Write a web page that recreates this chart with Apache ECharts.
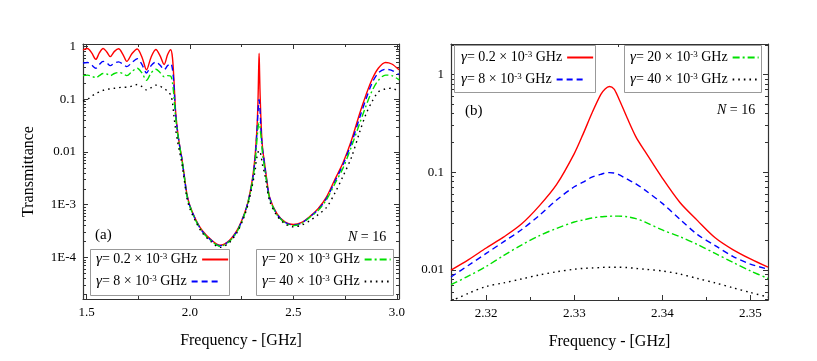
<!DOCTYPE html>
<html>
<head>
<meta charset="utf-8">
<script src="https://cdn.jsdelivr.net/npm/echarts@6/dist/echarts.min.js"></script>
<style>
html,body{margin:0;padding:0;background:#fff}
#main{width:817px;height:361px}
</style>
</head>
<body>
<div id="main"></div>
<script>
// panel (a): full band, frequency in GHz
const freqA = [1.483, 1.505, 1.525, 1.545, 1.562, 1.58, 1.598, 1.615, 1.635, 1.655, 1.675, 1.695, 1.72, 1.745, 1.768, 1.79, 1.812, 1.835, 1.855, 1.875, 1.892, 1.907, 1.915,
  1.922, 1.93, 1.94, 1.95, 1.96, 1.97, 1.985, 2.0,
  2.03, 2.06, 2.1, 2.145, 2.19, 2.23, 2.26, 2.28, 2.3, 2.31,
  2.316, 2.32, 2.324, 2.328, 2.33, 2.332, 2.334, 2.336, 2.338, 2.34, 2.344, 2.348, 2.352,
  2.36, 2.37, 2.385, 2.42, 2.46, 2.5, 2.54, 2.58,
  2.62, 2.66, 2.7, 2.74, 2.78, 2.82, 2.85, 2.88, 2.91, 2.945, 2.975, 3.01];

const redA = [0.871, 0.923, 0.759, 0.575, 0.759, 0.923, 0.794, 0.646, 0.813, 0.912, 0.724, 0.525, 0.741, 0.902, 0.631, 0.363, 0.631, 0.881, 0.676, 0.457, 0.708, 0.871, 0.631,
  0.251, 0.063, 0.025, 0.0132, 0.0079, 0.0042, 0.0016, 9.5e-4,
  5.0e-4, 3.2e-4, 2.2e-4, 1.7e-4, 2.1e-4, 3.4e-4, 6.3e-4, 1.12e-3, 2.8e-3, 5.6e-3,
  0.0100, 0.0168, 0.0295, 0.078, 0.16, 0.40, 0.75, 0.36, 0.16, 0.087, 0.032, 0.0162, 0.0107,
  0.0063, 0.0032, 0.00138, 6.8e-4, 4.7e-4, 4.2e-4, 4.6e-4, 6.0e-4,
  8.5e-4, 1.41e-3, 3.0e-3, 6.3e-3, 0.0166, 0.054, 0.12, 0.24, 0.389, 0.50, 0.468, 0.363];

const blueA = [0.490, 0.501, 0.447, 0.389, 0.457, 0.525, 0.490, 0.437, 0.490, 0.513, 0.468, 0.417, 0.501, 0.589, 0.457, 0.316, 0.437, 0.513, 0.447, 0.363, 0.437, 0.479, 0.380,
  0.2, 0.056, 0.024, 0.0129, 0.0078, 0.0041, 0.00155, 9.3e-4,
  4.9e-4, 3.1e-4, 2.15e-4, 1.66e-4, 2.05e-4, 3.3e-4, 6.2e-4, 1.1e-3, 2.6e-3, 5.0e-3,
  0.0085, 0.0148, 0.0258, 0.052, 0.071, 0.089, 0.099, 0.085, 0.066, 0.048, 0.023, 0.0138, 0.0102,
  0.006, 0.003, 0.00135, 6.6e-4, 4.6e-4, 4.1e-4, 4.5e-4, 5.9e-4,
  8.1e-4, 1.32e-3, 2.75e-3, 5.8e-3, 0.0148, 0.045, 0.1, 0.204, 0.316, 0.372, 0.355, 0.295];

const greenA = [0.282, 0.288, 0.275, 0.257, 0.282, 0.309, 0.302, 0.282, 0.309, 0.324, 0.309, 0.282, 0.339, 0.389, 0.316, 0.229, 0.316, 0.372, 0.324, 0.269, 0.282, 0.275, 0.209,
  0.12, 0.048, 0.0224, 0.0126, 0.0076, 0.004, 0.0015, 9.1e-4,
  4.8e-4, 3.05e-4, 2.1e-4, 1.63e-4, 2.0e-4, 3.2e-4, 6.0e-4, 1.07e-3, 2.5e-3, 4.5e-3,
  0.0071, 0.0109, 0.018, 0.0267, 0.031, 0.034, 0.0355, 0.035, 0.031, 0.0257, 0.0182, 0.012, 0.0082,
  0.0052, 0.0028, 0.00132, 6.5e-4, 4.5e-4, 4.0e-4, 4.4e-4, 5.8e-4,
  7.8e-4, 1.25e-3, 2.5e-3, 5.0e-3, 0.0126, 0.035, 0.074, 0.145, 0.229, 0.288, 0.282, 0.234];

const blackA = [0.093, 0.1, 0.115, 0.129, 0.138, 0.148, 0.155, 0.158, 0.162, 0.166, 0.17, 0.17, 0.178, 0.191, 0.174, 0.151, 0.166, 0.186, 0.178, 0.158, 0.145, 0.12, 0.089,
  0.05, 0.028, 0.0158, 0.01, 0.0063, 0.0035, 0.00135, 8.3e-4,
  4.6e-4, 2.9e-4, 2.0e-4, 1.55e-4, 1.9e-4, 3.1e-4, 5.7e-4, 1.0e-3, 2.2e-3, 3.5e-3,
  0.0048, 0.0067, 0.0082, 0.0096, 0.0102, 0.0105, 0.0107, 0.0106, 0.0102, 0.0098, 0.0082, 0.0066, 0.0053,
  0.004, 0.0024, 0.00117, 6.2e-4, 4.3e-4, 3.8e-4, 4.1e-4, 5.0e-4,
  6.5e-4, 8.9e-4, 1.66e-3, 3.5e-3, 7.9e-3, 0.024, 0.052, 0.091, 0.138, 0.158, 0.162, 0.138];

// panel (b): zoom on the defect mode
const freqB = [2.316, 2.318, 2.32, 2.322, 2.324, 2.326, 2.328, 2.33, 2.331, 2.332, 2.333, 2.3335, 2.334, 2.3345, 2.335, 2.336, 2.337, 2.338, 2.34, 2.342, 2.344, 2.346, 2.348, 2.35, 2.352];
const redB = [0.0100, 0.0128, 0.0168, 0.0218, 0.0295, 0.045, 0.075, 0.155, 0.245, 0.40, 0.62, 0.71, 0.75, 0.71, 0.58, 0.36, 0.23, 0.165, 0.087, 0.049, 0.032, 0.0214, 0.0162, 0.013, 0.0107];
const blueB = [0.0085, 0.0112, 0.0148, 0.0195, 0.0258, 0.036, 0.052, 0.071, 0.079, 0.089, 0.095, 0.098, 0.099, 0.098, 0.095, 0.085, 0.076, 0.066, 0.048, 0.033, 0.023, 0.0178, 0.0138, 0.0115, 0.0102];
const greenB = [0.0071, 0.0087, 0.0109, 0.0141, 0.018, 0.0224, 0.0267, 0.031, 0.0325, 0.034, 0.035, 0.0353, 0.0355, 0.0356, 0.0356, 0.035, 0.0335, 0.031, 0.0257, 0.0219, 0.0182, 0.0148, 0.012, 0.0098, 0.0082];
const blackB = [0.0048, 0.0058, 0.0068, 0.0074, 0.0081, 0.0089, 0.0096, 0.0102, 0.0104, 0.0105, 0.0106, 0.0107, 0.0107, 0.0107, 0.0107, 0.0106, 0.0104, 0.0102, 0.0098, 0.0091, 0.0082, 0.0074, 0.0066, 0.0059, 0.0053];

const gammas = { g02: '0.2', g8: '8', g20: '20', g40: '40' };
const xTicksA = [1.5, 2.0, 2.5, 3.0];
const xMinorA = [1.75, 2.25, 2.75];
const xTicksB = [2.32, 2.33, 2.34, 2.35];
const xMinorB = [2.325, 2.335, 2.345];
const yLabels = { '0': '1', '-1': '0.1', '-2': '0.01', '-3': '1E-3', '-4': '1E-4' };

const serif = '"Liberation Serif", "DejaVu Serif", serif';
const frame = '#333';

function decadeMinors(lo, hi) {
  let out = [];
  for (let n = Math.floor(lo); n < Math.ceil(hi); n++) {
    for (let k = 2; k <= 9; k++) {
      let v = n + Math.log10(k);
      if (v > lo && v < hi) out.push(v);
    }
  }
  return out;
}

// 4 axes per direction: labelled side, its minor ticks, mirror side, mirror minor ticks
function axes(dir, grid, min, max, majors, minors, fmt, name, nameGap) {
  const pos = dir === 'x' ? ['bottom', 'top'] : ['left', 'right'];
  let list = [];
  [0, 1].forEach(side => {
    [majors, minors].forEach((vals, m) => {
      let a = {
        type: 'value', gridIndex: grid, min: min, max: max, position: pos[side],
        splitLine: { show: false },
        axisLine: { show: m === 0, onZero: false, lineStyle: { color: frame, width: 1.2 } },
        axisTick: { show: true, inside: true, length: m === 0 ? 5 : 3, customValues: vals, lineStyle: { color: frame, width: 1 } },
        axisLabel: { show: false }
      };
      if (side === 0 && m === 0) {
        a.axisLabel = { show: true, customValues: majors, formatter: fmt, color: '#000', fontFamily: serif, fontSize: 13, margin: 7 };
        a.name = name;
        a.nameLocation = 'middle';
        a.nameGap = nameGap;
        a.nameTextStyle = { color: '#000', fontFamily: serif, fontSize: 16 };
      }
      list.push(a);
    });
  });
  return list;
}

const yMinA = -4.79, yMaxA = 0.05;
const yMinB = -2.306, yMaxB = 0.31;

const xAxes = [].concat(
  axes('x', 0, 1.483, 3.01, xTicksA, xMinorA, v => v.toFixed(1), 'Frequency - [GHz]', 34),
  axes('x', 1, 2.316, 2.352, xTicksB, xMinorB, v => v.toFixed(2), 'Frequency - [GHz]', 34)
);
const yAxes = [].concat(
  axes('y', 0, yMinA, yMaxA, [-4, -3, -2, -1, 0], decadeMinors(yMinA, yMaxA), v => yLabels[String(Math.round(v))], 'Transmittance', 46),
  axes('y', 1, yMinB, yMaxB, [-2, -1, 0], decadeMinors(yMinB, yMaxB), v => yLabels[String(Math.round(v))], '', 30)
);
yAxes[0].nameRotate = 90;

const styles = {
  g02: { color: '#ff0000', type: 'solid' },
  g8: { color: '#0000ff', type: [6, 4] },
  g20: { color: '#00e000', type: [7, 3, 2, 3] },
  g40: { color: '#000000', type: [1.6, 4] }
};

function line(name, freq, vals, grid) {
  return {
    type: 'line', name: name, xAxisIndex: grid * 4, yAxisIndex: grid * 4,
    data: freq.map((f, i) => [f, Math.log10(vals[i])]),
    showSymbol: false, symbol: 'none', smooth: 0.3,
    lineStyle: { color: styles[name].color, width: 1.4, type: styles[name].type },
    itemStyle: { color: styles[name].color },
    clip: true
  };
}

const series = [
  line('g02', freqA, redA, 0), line('g8', freqA, blueA, 0), line('g20', freqA, greenA, 0), line('g40', freqA, blackA, 0),
  line('g02', freqB, redB, 1), line('g8', freqB, blueB, 1), line('g20', freqB, greenB, 1), line('g40', freqB, blackB, 1)
];

// one legend per row so every row starts at the box's left edge
function legendRow(name, left, midY) {
  return {
    data: [name], left: left, top: midY - 9, orient: 'horizontal', align: 'right',
    itemWidth: 26, itemHeight: 8, padding: 0,
    selectedMode: false,
    itemStyle: { color: 'transparent', borderWidth: 0, opacity: 0 },
    formatter: n => '{g|γ}{t|= ' + gammas[n] + ' × 10}{s|-3}{t| GHz}',
    textStyle: {
      color: '#000', fontFamily: serif, fontSize: 14,
      rich: {
        g: { fontFamily: serif, fontSize: 15, fontStyle: 'italic' },
        t: { fontFamily: serif, fontSize: 14 },
        s: { fontFamily: serif, fontSize: 9, verticalAlign: 'top', padding: [0, 0, 6, 0] }
      }
    }
  };
}

function box(x, y, w, h) {
  return { type: 'rect', z: 3, shape: { x: x, y: y, width: w, height: h }, style: { fill: '#fff', stroke: '#999', lineWidth: 1 } };
}

function label(text, left, top, size) {
  return {
    type: 'text', left: left, top: top, z: 5,
    style: { text: text, font: size + 'px ' + serif, fill: '#000', rich: { i: { fontStyle: 'italic', fontFamily: serif, fontSize: size } } }
  };
}

const option = {
  animation: false,
  backgroundColor: '#fff',
  grid: [
    { left: 83, right: 418, top: 44, bottom: 62 },
    { left: 451, right: 49, top: 44, bottom: 61 }
  ],
  xAxis: xAxes,
  yAxis: yAxes,
  legend: [
    legendRow('g02', 96, 261), legendRow('g8', 96, 283),
    legendRow('g20', 262, 261), legendRow('g40', 262, 283),
    legendRow('g02', 461, 59), legendRow('g8', 461, 81),
    legendRow('g20', 630, 59), legendRow('g40', 630, 81)
  ],
  graphic: [
    box(90.5, 249.5, 139, 46), box(256.5, 249.5, 137, 46),
    box(454.5, 45.5, 141, 47), box(624.5, 45.5, 137, 47),
    label('(a)', 95, 228, 15),
    label('(b)', 465, 104, 15),
    label('{i|N} = 16', 348, 230, 14),
    label('{i|N} = 16', 717, 103, 14)
  ],
  series: series
};

const chart = echarts.init(document.getElementById('main'));
chart.setOption(option);
window.onresize = function () { chart.resize(); };
</script>
</body>
</html>
